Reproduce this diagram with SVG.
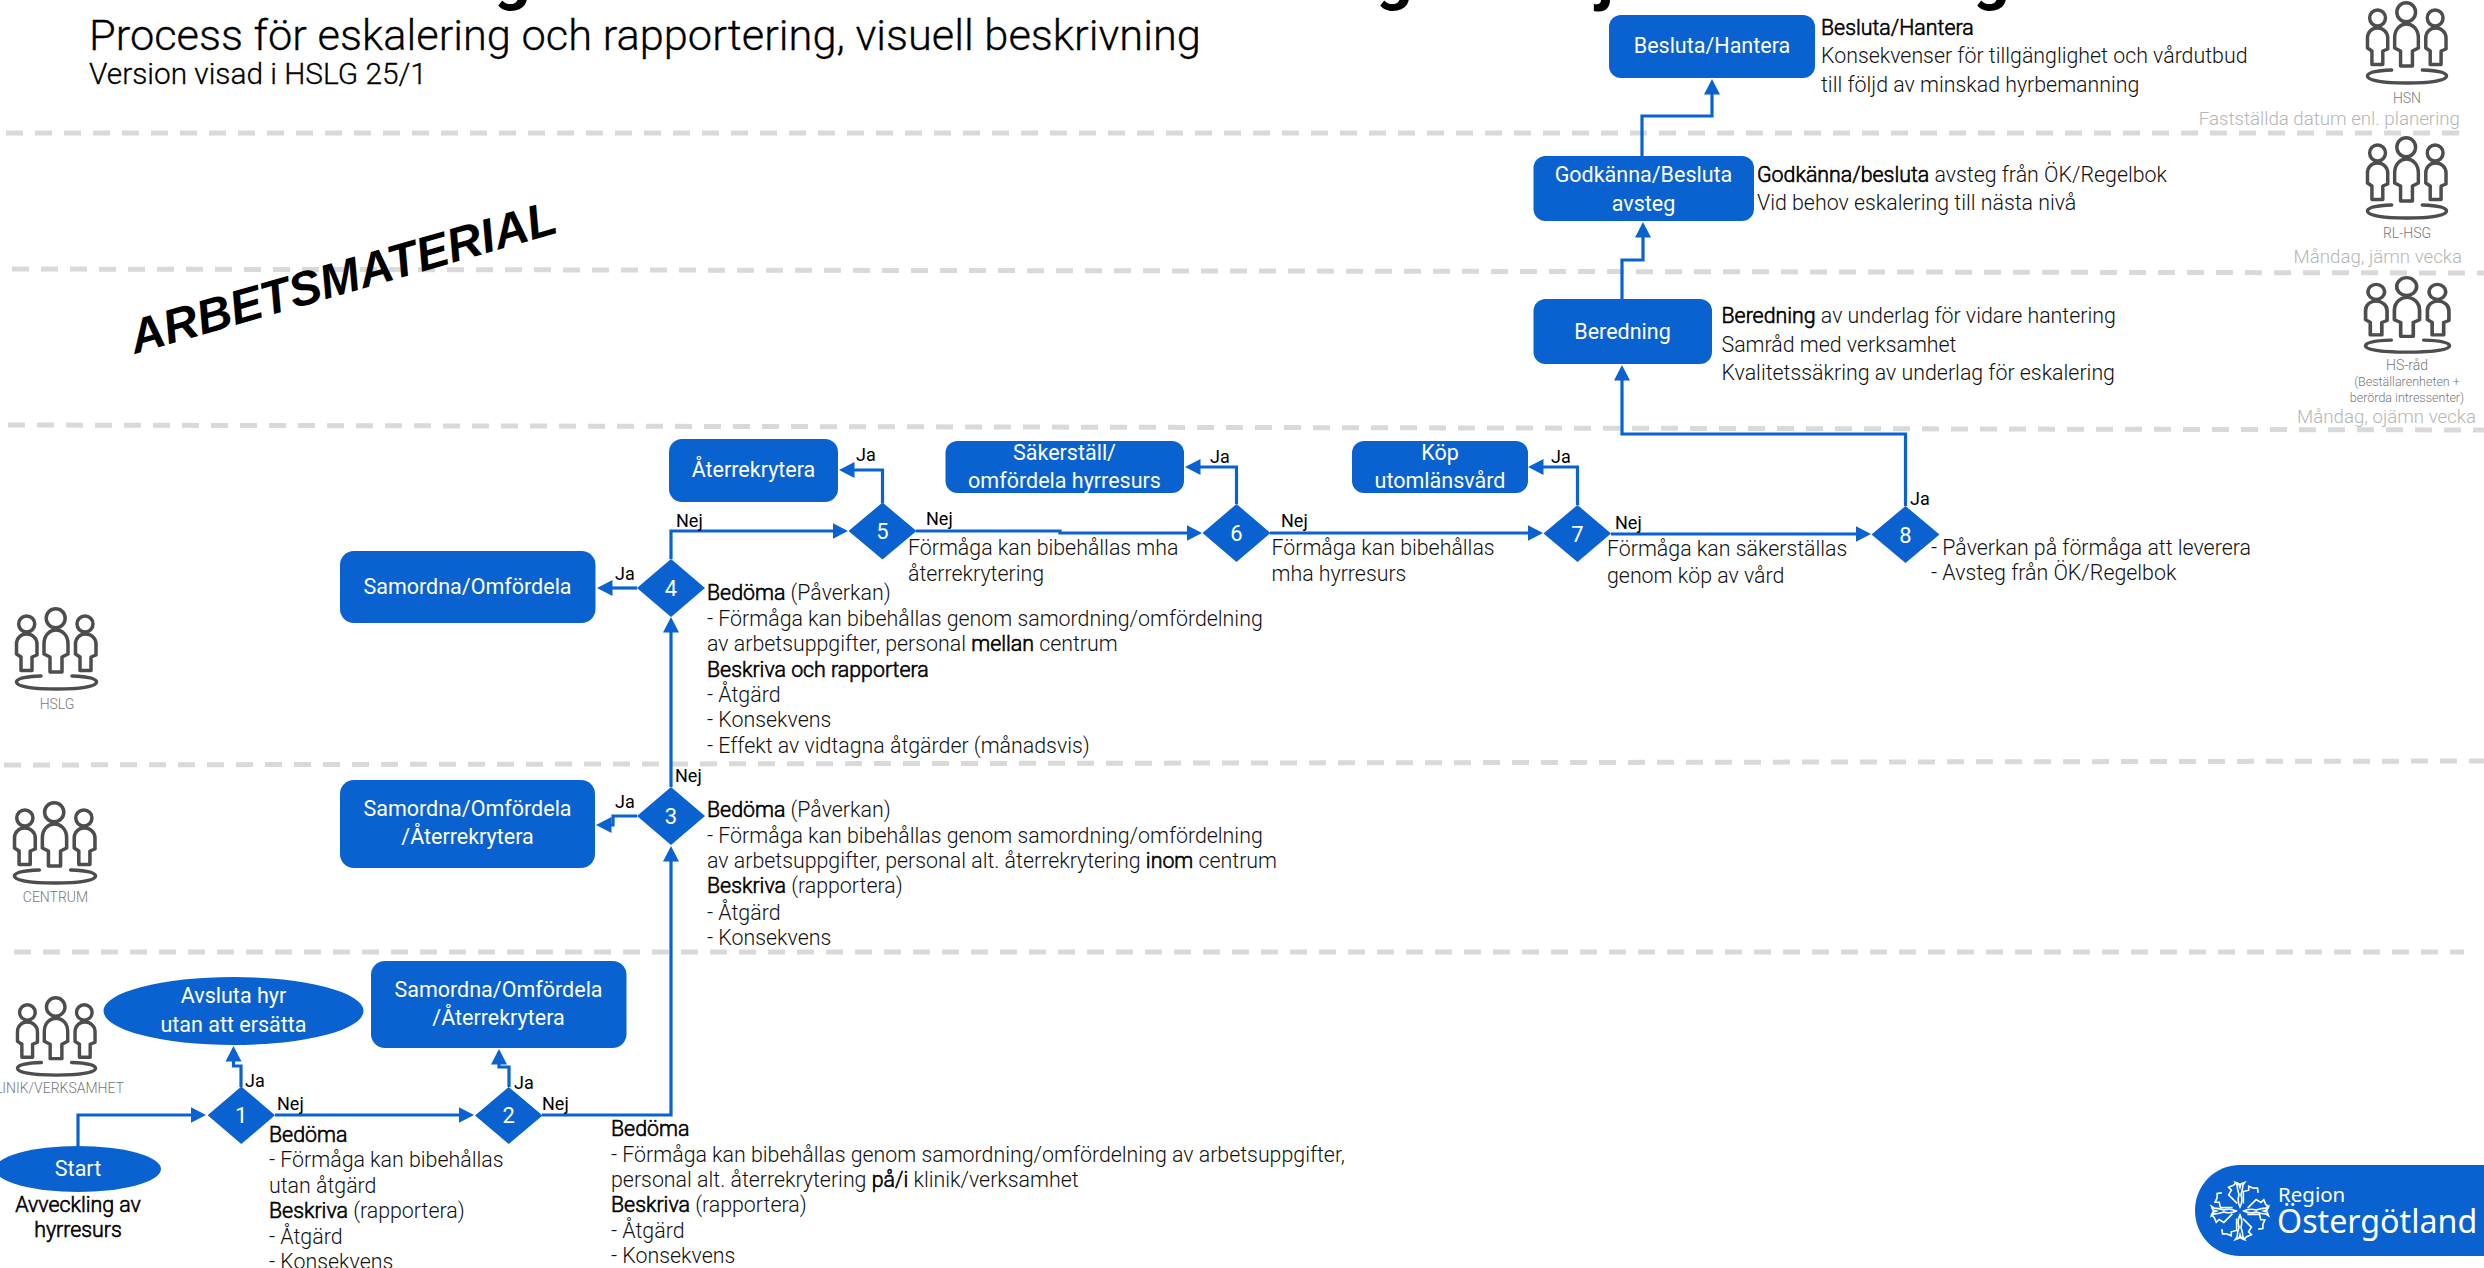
<svg xmlns="http://www.w3.org/2000/svg" width="2484" height="1268" viewBox="0 0 2484 1268">
<style>
text{font-family:Roboto,"Liberation Sans",sans-serif}
.bg{fill:#fff}
.lane{fill:none;stroke:#d9d9d9;stroke-width:5;stroke-dasharray:17 12}
.box{fill:#0a62d0}
.w{fill:#fff;font-size:21.5px;font-weight:400;text-anchor:middle}
.num{fill:#fff;font-size:22px;font-weight:400;text-anchor:middle}
.c{fill:none;stroke:#0a62d0;stroke-width:3.2;marker-end:url(#arrow)}
.t{fill:#111;font-size:21.35px;font-weight:300}
.b{fill:#000;stroke:#000;stroke-width:.6px}
.h{fill:#000;stroke:#000;stroke-width:.3px;font-weight:300}
.l{fill:#000;font-size:18px;font-weight:400}
.ic{fill:#777;font-size:14px;font-weight:300;text-anchor:middle}
.d{fill:#b5b5b5;font-size:18.7px;font-weight:300;text-anchor:end}
.p{fill:none;stroke:#4d4d4d;stroke-width:3.5;stroke-linejoin:round;stroke-linecap:round}
.pet{fill:none;stroke:#fff;stroke-width:1.7;stroke-linejoin:miter}
</style>
<defs>
<marker id="arrow" markerUnits="userSpaceOnUse" markerWidth="16" markerHeight="18" refX="0.5" refY="9" orient="auto"><path d="M0 1L15.5 9L0 17Z" fill="#0a62d0"/></marker>
<symbol id="people" viewBox="0 0 83 83" overflow="visible" preserveAspectRatio="none">
<circle class="p" cx="40.7" cy="10.3" r="9.5"/><circle class="p" cx="11.7" cy="16" r="8"/><circle class="p" cx="70" cy="16" r="8"/>
<path class="p" d="M35 64H47V49L53 46V36C53 27 47 22 41 22C35 22 29 27 29 36V46L35 49Z"/>
<path class="p" d="M6 62.500H17V49L22 47V36C22 30 17 26 11.500 26C6 26 1.500 30 1.500 36V46L6 49Z"/>
<path class="p" d="M65 62.500H76V49L81 47V36C81 30 76 26 70.500 26C65 26 60.500 30 60.500 36V46L65 49Z"/>
<path class="p" d="M26 68C10 68.500 1.500 70.500 1.500 74C1.500 79 20 81 41.500 81C63 81 81.500 79 81.500 74C81.500 70.500 73 68.500 57 68"/>
</symbol>
<path id="petal" class="pet" d="M0 -4C-3 -10 -2 -14 -1 -17C-2 -20 -3 -23 -3 -27L-5 -30L-1 -28.500L0 -25L1 -28.500L5 -30L3 -27C3 -23 2 -20 1 -17C2 -14 3 -10 0 -4Z"/>
<path id="petal2" class="pet" d="M-3 -8L-12 -17L-9 -22L-12 -25L-7 -27L-4 -30L0 -27"/>
</defs>
<rect class="bg" width="2484" height="1268"/>
<g id="lanes">
<path class="lane" d="M6 133H2462"/>
<path class="lane" d="M12 269L2484 273"/>
<path class="lane" d="M8 425L2484 430"/>
<path class="lane" d="M4 765L2484 761"/>
<path class="lane" d="M14 952H2464"/>
</g>
<g id="title">
<text class="h" x="89" y="50" font-size="43.4">Process för eskalering och rapportering, visuell beskrivning</text>
<text class="h" x="89" y="84" font-size="29.8">Version visad i HSLG 25/1</text>
<text x="494" y="-2" font-size="64" font-weight="700" fill="#000">g</text>
<text x="1376" y="-2" font-size="64" font-weight="700" fill="#000">g</text>
<text x="1597" y="-2" font-size="64" font-weight="700" fill="#000">j</text>
<text x="1973" y="-2" font-size="64" font-weight="700" fill="#000">g</text>
<text transform="translate(135 354) rotate(-16)" style="font-family:'Liberation Sans',Arial,sans-serif;font-weight:700;font-style:italic" font-size="48" fill="#000">ARBETSMATERIAL</text>
</g>
<g id="connectors">
<path class="c" d="M78 1146V1115H191"/>
<path class="c" d="M275 1115H459"/>
<path class="c" d="M241 1087V1066H233.500V1061"/>
<path class="c" d="M509 1087V1067H499V1064"/>
<path class="c" d="M542 1115H671V861"/>
<path class="c" d="M671 787V632"/>
<path class="c" d="M637 816H613V825H611"/>
<path class="c" d="M637 588H612"/>
<path class="c" d="M671 559V531H833"/>
<path class="c" d="M916 531H1060V533H1187"/>
<path class="c" d="M882.500 503V470H854"/>
<path class="c" d="M1236.500 504V467H1200"/>
<path class="c" d="M1270 533H1528"/>
<path class="c" d="M1577.500 505V467H1543"/>
<path class="c" d="M1611 534H1856"/>
<path class="c" d="M1905.500 506V434H1622V380"/>
<path class="c" d="M1622 299V260H1643V237"/>
<path class="c" d="M1642 156V116H1712V94"/>
</g>
<g id="labels">
<text class="l" x="245" y="1087">Ja</text><text class="l" x="277" y="1110">Nej</text>
<text class="l" x="514" y="1089">Ja</text><text class="l" x="542" y="1110">Nej</text>
<text class="l" x="615" y="808">Ja</text><text class="l" x="675" y="782">Nej</text>
<text class="l" x="615" y="580">Ja</text><text class="l" x="676" y="527">Nej</text>
<text class="l" x="856" y="461">Ja</text><text class="l" x="926" y="525">Nej</text>
<text class="l" x="1210" y="463">Ja</text><text class="l" x="1281" y="527">Nej</text>
<text class="l" x="1551" y="463">Ja</text><text class="l" x="1615" y="529">Nej</text>
<text class="l" x="1910" y="505">Ja</text>
</g>
<g id="start"><ellipse class="box" cx="78" cy="1169" rx="83" ry="23"/><text class="w" x="78" y="1176">Start</text>
<text class="t b" x="78" y="1212" text-anchor="middle">Avveckling av</text><text class="t b" x="78" y="1237" text-anchor="middle">hyrresurs</text></g>
<g id="avsluta"><ellipse class="box" cx="233.500" cy="1011" rx="130" ry="34"/><text class="w" x="233.500" y="1003">Avsluta hyr</text><text class="w" x="233.500" y="1032">utan att ersätta</text></g>
<g id="samordna-2"><rect class="box" x="371" y="961" width="255.500" height="87" rx="14"/><text class="w" x="498.500" y="997">Samordna/Omfördela</text><text class="w" x="498.500" y="1025">/Återrekrytera</text></g>
<g id="samordna-3"><rect class="box" x="340" y="780" width="255" height="88" rx="14"/><text class="w" x="467.500" y="816">Samordna/Omfördela</text><text class="w" x="467.500" y="844">/Återrekrytera</text></g>
<g id="samordna-4"><rect class="box" x="340" y="551" width="255.500" height="72" rx="14"/><text class="w" x="467.500" y="594">Samordna/Omfördela</text></g>
<g id="aterrekrytera"><rect class="box" x="669" y="439" width="169" height="63" rx="13"/><text class="w" x="753.500" y="477">Återrekrytera</text></g>
<g id="sakerstall"><rect class="box" x="945.500" y="441" width="238.500" height="52" rx="12"/><text class="w" x="1064.500" y="460">Säkerställ/</text><text class="w" x="1064.500" y="488">omfördela hyrresurs</text></g>
<g id="kop"><rect class="box" x="1352" y="441" width="176" height="52" rx="12"/><text class="w" x="1440" y="460">Köp</text><text class="w" x="1440" y="488">utomlänsvård</text></g>
<g id="beredning"><rect class="box" x="1533.500" y="299" width="178.500" height="65" rx="12"/><text class="w" x="1622.500" y="339">Beredning</text></g>
<g id="godkanna"><rect class="box" x="1533.500" y="156" width="220.500" height="65" rx="12"/><text class="w" x="1643.500" y="182">Godkänna/Besluta</text><text class="w" x="1643.500" y="211">avsteg</text></g>
<g id="besluta"><rect class="box" x="1609" y="15" width="206" height="63" rx="12"/><text class="w" x="1712" y="53">Besluta/Hantera</text></g>
<g id="d1"><path class="box" d="M241.300 1086.500L275 1115.300L241.300 1144L207.600 1115.300Z"/><text class="num" x="241.300" y="1123">1</text></g>
<g id="d2"><path class="box" d="M508.700 1087L542.500 1115.500L508.700 1144L475 1115.500Z"/><text class="num" x="508.700" y="1123">2</text></g>
<g id="d3"><path class="box" d="M671 787L705 816L671 845L637 816Z"/><text class="num" x="671" y="824">3</text></g>
<g id="d4"><path class="box" d="M671 559L705 588L671 617L637 588Z"/><text class="num" x="671" y="596">4</text></g>
<g id="d5"><path class="box" d="M882.500 502.500L916.500 531L882.500 559.500L848.500 531Z"/><text class="num" x="882.500" y="539">5</text></g>
<g id="d6"><path class="box" d="M1236.500 504L1270.500 533L1236.500 562L1202.500 533Z"/><text class="num" x="1236.500" y="541">6</text></g>
<g id="d7"><path class="box" d="M1577.500 505L1611 533.500L1577.500 562L1543.500 533.500Z"/><text class="num" x="1577.500" y="541.500">7</text></g>
<g id="d8"><path class="box" d="M1905.500 506L1939.500 534.500L1905.500 563L1871.500 534.500Z"/><text class="num" x="1905.500" y="542.500">8</text></g>
<g id="texts">
<text class="t" x="269" y="1142"><tspan class="b">Bedöma</tspan></text>
<text class="t" x="269" y="1167">- Förmåga kan bibehållas</text>
<text class="t" x="269" y="1193">utan åtgärd</text>
<text class="t" x="269" y="1218"><tspan class="b">Beskriva</tspan> (rapportera)</text>
<text class="t" x="269" y="1244">- Åtgärd</text>
<text class="t" x="269" y="1269">- Konsekvens</text>
<text class="t" x="611" y="1136"><tspan class="b">Bedöma</tspan></text>
<text class="t" x="611" y="1162">- Förmåga kan bibehållas genom samordning/omfördelning av arbetsuppgifter,</text>
<text class="t" x="611" y="1187">personal alt. återrekrytering <tspan class="b">på/i</tspan> klinik/verksamhet</text>
<text class="t" x="611" y="1212"><tspan class="b">Beskriva</tspan> (rapportera)</text>
<text class="t" x="611" y="1238">- Åtgärd</text>
<text class="t" x="611" y="1263">- Konsekvens</text>
<text class="t" x="707" y="817"><tspan class="b">Bedöma</tspan> (Påverkan)</text>
<text class="t" x="707" y="843">- Förmåga kan bibehållas genom samordning/omfördelning</text>
<text class="t" x="707" y="868">av arbetsuppgifter, personal alt. återrekrytering <tspan class="b">inom</tspan> centrum</text>
<text class="t" x="707" y="893"><tspan class="b">Beskriva</tspan> (rapportera)</text>
<text class="t" x="707" y="920">- Åtgärd</text>
<text class="t" x="707" y="945">- Konsekvens</text>
<text class="t" x="707" y="600"><tspan class="b">Bedöma</tspan> (Påverkan)</text>
<text class="t" x="707" y="626">- Förmåga kan bibehållas genom samordning/omfördelning</text>
<text class="t" x="707" y="651">av arbetsuppgifter, personal <tspan class="b">mellan</tspan> centrum</text>
<text class="t" x="707" y="677"><tspan class="b">Beskriva och rapportera</tspan></text>
<text class="t" x="707" y="702">- Åtgärd</text>
<text class="t" x="707" y="727">- Konsekvens</text>
<text class="t" x="707" y="753">- Effekt av vidtagna åtgärder (månadsvis)</text>
<text class="t" x="908" y="555">Förmåga kan bibehållas mha</text>
<text class="t" x="908" y="581">återrekrytering</text>
<text class="t" x="1271.500" y="555">Förmåga kan bibehållas</text>
<text class="t" x="1271.500" y="581">mha hyrresurs</text>
<text class="t" x="1607" y="556">Förmåga kan säkerställas</text>
<text class="t" x="1607" y="583">genom köp av vård</text>
<text class="t" x="1931" y="555">- Påverkan på förmåga att leverera</text>
<text class="t" x="1931" y="580">- Avsteg från ÖK/Regelbok</text>
<text class="t" x="1721.500" y="323"><tspan class="b">Beredning</tspan> av underlag för vidare hantering</text>
<text class="t" x="1721.500" y="352">Samråd med verksamhet</text>
<text class="t" x="1721.500" y="380">Kvalitetssäkring av underlag för eskalering</text>
<text class="t" x="1757" y="182"><tspan class="b">Godkänna/besluta</tspan> avsteg från ÖK/Regelbok</text>
<text class="t" x="1757" y="210">Vid behov eskalering till nästa nivå</text>
<text class="t" x="1821" y="35"><tspan class="b">Besluta/Hantera</tspan></text>
<text class="t" x="1821" y="63">Konsekvenser för tillgänglighet och vårdutbud</text>
<text class="t" x="1821" y="92">till följd av minskad hyrbemanning</text>
</g>
<g id="actor-klinik"><use href="#people" x="16" y="997" width="81" height="80"/><text class="ic" x="124" y="1093" style="text-anchor:end">KLINIK/VERKSAMHET</text></g>
<g id="actor-centrum"><use href="#people" x="13" y="802" width="84" height="83"/><text class="ic" x="55.500" y="902">CENTRUM</text></g>
<g id="actor-hslg"><use href="#people" x="15" y="608" width="83" height="83"/><text class="ic" x="57" y="709">HSLG</text></g>
<g id="actor-hsn"><use href="#people" x="2366" y="2" width="82" height="83"/><text class="ic" x="2407" y="103">HSN</text><text class="d" x="2460" y="125">Fastställda datum enl. planering</text></g>
<g id="actor-rl"><use href="#people" x="2366" y="137" width="82" height="83"/><text class="ic" x="2407" y="238">RL-HSG</text><text class="d" x="2462" y="263">Måndag, jämn vecka</text></g>
<g id="actor-hsrad"><use href="#people" x="2364" y="277" width="87" height="77"/><text class="ic" x="2407" y="370">HS-råd</text><text class="ic" x="2407" y="386" style="font-size:12.5px">(Beställarenheten +</text><text class="ic" x="2407" y="402" style="font-size:12.5px">berörda intressenter)</text><text class="d" x="2476" y="423">Måndag, ojämn vecka</text></g>
<g id="logo">
<path class="box" d="M2484 1165H2240C2215 1165 2195 1185 2195 1210.500C2195 1236 2215 1256 2240 1256H2484Z"/>
<g transform="translate(2240 1211) scale(.95)">
<use href="#petal"/><use href="#petal" transform="rotate(90)"/><use href="#petal" transform="rotate(180)"/><use href="#petal" transform="rotate(270)"/>
<use href="#petal2"/><use href="#petal2" transform="rotate(45)"/><use href="#petal2" transform="rotate(90)"/><use href="#petal2" transform="rotate(135)"/><use href="#petal2" transform="rotate(180)"/><use href="#petal2" transform="rotate(225)"/><use href="#petal2" transform="rotate(270)"/><use href="#petal2" transform="rotate(315)"/>
</g>
<text x="2278" y="1202" font-size="20.5" fill="#fff" style="font-family:'Noto Sans',sans-serif">Region</text>
<text x="2277" y="1233" font-size="32.2" fill="#fff" style="font-family:'Noto Sans',sans-serif">Östergötland</text>
</g>
</svg>
